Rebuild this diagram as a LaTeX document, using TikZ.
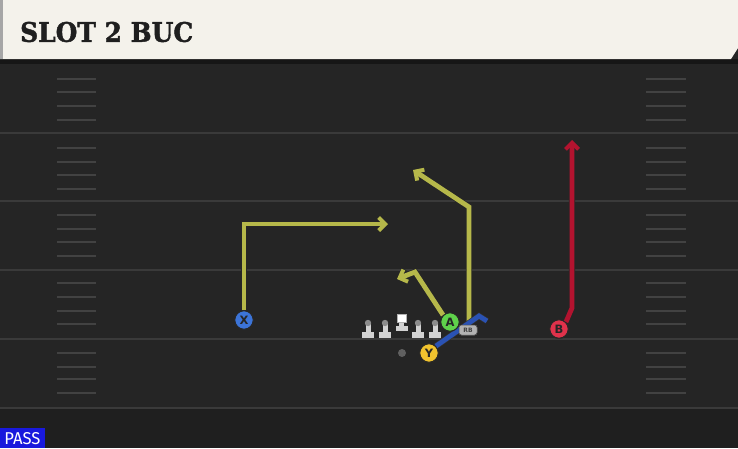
\documentclass[tikz,border=0pt]{standalone}
\usepackage{fontspec}
\usepackage{graphicx}
\usetikzlibrary{arrows.meta}
\newfontfamily\titlefont[FakeBold=1.6]{DejaVu Serif}
\newfontfamily\labfont{DejaVu Sans}
\newfontfamily\passfont{Fira Sans}
\definecolor{fieldbg}{HTML}{252525}
\definecolor{fieldlow}{HTML}{1F1F1F}
\definecolor{yardc}{HTML}{3A3A3A}
\definecolor{hashc}{HTML}{424242}
\definecolor{headbg}{HTML}{F4F2EB}
\definecolor{routey}{HTML}{B6B84A}
\definecolor{router}{HTML}{B3132F}
\definecolor{routeb}{HTML}{2A52B4}
\definecolor{cX}{HTML}{3C74D8}
\definecolor{cA}{HTML}{5FD24B}
\definecolor{cY}{HTML}{F1C32E}
\definecolor{cB}{HTML}{E0324B}
\definecolor{linec}{HTML}{D2D2D2}
\definecolor{headc}{HTML}{8C8C8C}
\tikzset{
  yard/.style={draw=yardc, line width=2pt},
  hashm/.style={draw=hashc, line width=1.8pt},
  player/.style={circle, draw=black!85, line width=1pt, minimum size=18.5pt, inner sep=0pt, font=\labfont\bfseries\fontsize{11.5}{11.5}\selectfont, text=black!85},
  route/.style={line width=4.8pt, line join=miter,
    preaction={draw=black!85, line width=6.2pt, -{Straight Barb[length=6.5pt,width=13pt,line width=5.2pt]}},
    -{Straight Barb[length=6.5pt,width=13pt,line width=4pt]}},
  routeplain/.style={line width=4.8pt, line join=miter, preaction={draw=black!80, line width=6pt}},
  rbtag/.style={rectangle, rounded corners=2.5pt, fill=linec!85!black, draw=black!70, line width=0.5pt, minimum width=18pt, minimum height=10pt, inner sep=0pt, font=\labfont\bfseries\fontsize{6}{6}\selectfont, text=black!75},
}
\begin{document}
\begin{tikzpicture}[x=1pt,y=-1pt]
\useasboundingbox (0,0) rectangle (738,448);
% field
\fill[fieldbg] (0,0) rectangle (738,448);
\fill[fieldlow] (0,408) rectangle (738,448);
\fill[black!40!fieldbg] (0,59) rectangle (738,64);
% yard lines
\foreach \yy in {133,201,270,339,408} \draw[yard] (0,\yy) -- (738,\yy);
% hash marks
\foreach \yy in {79,92,106,120,148,162,175,189,215,229,242,256,283,297,311,324,353,367,379,393} {
  \draw[hashm] (57,\yy) -- (96,\yy);
  \draw[hashm] (646,\yy) -- (686,\yy);
}
% header
\fill[headbg] (0,0) -- (738,0) -- (738,48) -- (731,59) -- (0,59) -- cycle;
\fill[gray!70] (0,0) rectangle (2.5,59);
\node[anchor=west, inner sep=0pt, text=black!88] (title) at (20,32) {\resizebox{173pt}{20pt}{\titlefont\bfseries SLOT 2 BUC}};
% PASS tag
\fill[blue!85!black!90!white] (0,428) rectangle (45,448);
\node[inner sep=0pt, text=white] (pass) at (22.5,438.5) {\resizebox{36pt}{12pt}{\passfont PASS}};
% coordinates
\coordinate (xc) at (244,224);
\coordinate (xe) at (388,224);
\coordinate (rbs) at (469,324);
\coordinate (rbc) at (469,207);
\coordinate (rbe) at (413,170);
\coordinate (ac) at (415,272);
\coordinate (ae) at (397,279);
\coordinate (yc) at (479,316);
\coordinate (ye) at (487,321);
\coordinate (bc) at (572,308);
\coordinate (be) at (572,140);
% players (positions)
\node[player, fill=cX] (X) at (244,320) {X};
\node[player, fill=cA] (A) at (450,322) {A};
\node[player, fill=cY] (Y) at (429,353) {Y};
\node[player, fill=cB] (B) at (559,329) {B};
\node[rbtag] (RB) at (468,330) {RB};
% routes
\draw[route, routey] (X.north) -- (xc) -- (xe);
\draw[route, routey] (rbs) -- (rbc) -- (rbe);
\draw[route, routey] (A.north west) -- (ac) -- (ae);
\draw[routeplain, routeb] (Y.north east) -- (yc) -- (ye);
\draw[route, router] (B.north east) -- (bc) -- (be);
% redraw players on top
\node[player, fill=cX] at (X) {X};
\node[player, fill=cA] at (A) {A};
\node[player, fill=cY] at (Y) {Y};
\node[player, fill=cB] at (B) {B};
\node[rbtag] at (RB) {RB};
% QB dot
\node[circle, fill=gray!75!black, minimum size=8pt, inner sep=0pt] (qb) at (402,353) {};
% linemen
\foreach \xx/\nm in {368/lt,385/lg,418/rg,435/rt} {
  \fill[linec] (\xx-2.5,324) rectangle (\xx+2.5,334);
  \fill[linec] (\xx-6,332) rectangle (\xx+6,337.5);
  \fill[headc] (\xx,323) circle (3.2pt);
}
\node[rectangle, fill=white, draw=gray!60, line width=0.5pt, minimum size=8.5pt, inner sep=0pt] (ctr) at (401.5,318) {};
\fill[linec] (399,322.5) rectangle (404,327);
\fill[linec] (395.5,326) rectangle (407.5,330.5);
\end{tikzpicture}
\end{document}
